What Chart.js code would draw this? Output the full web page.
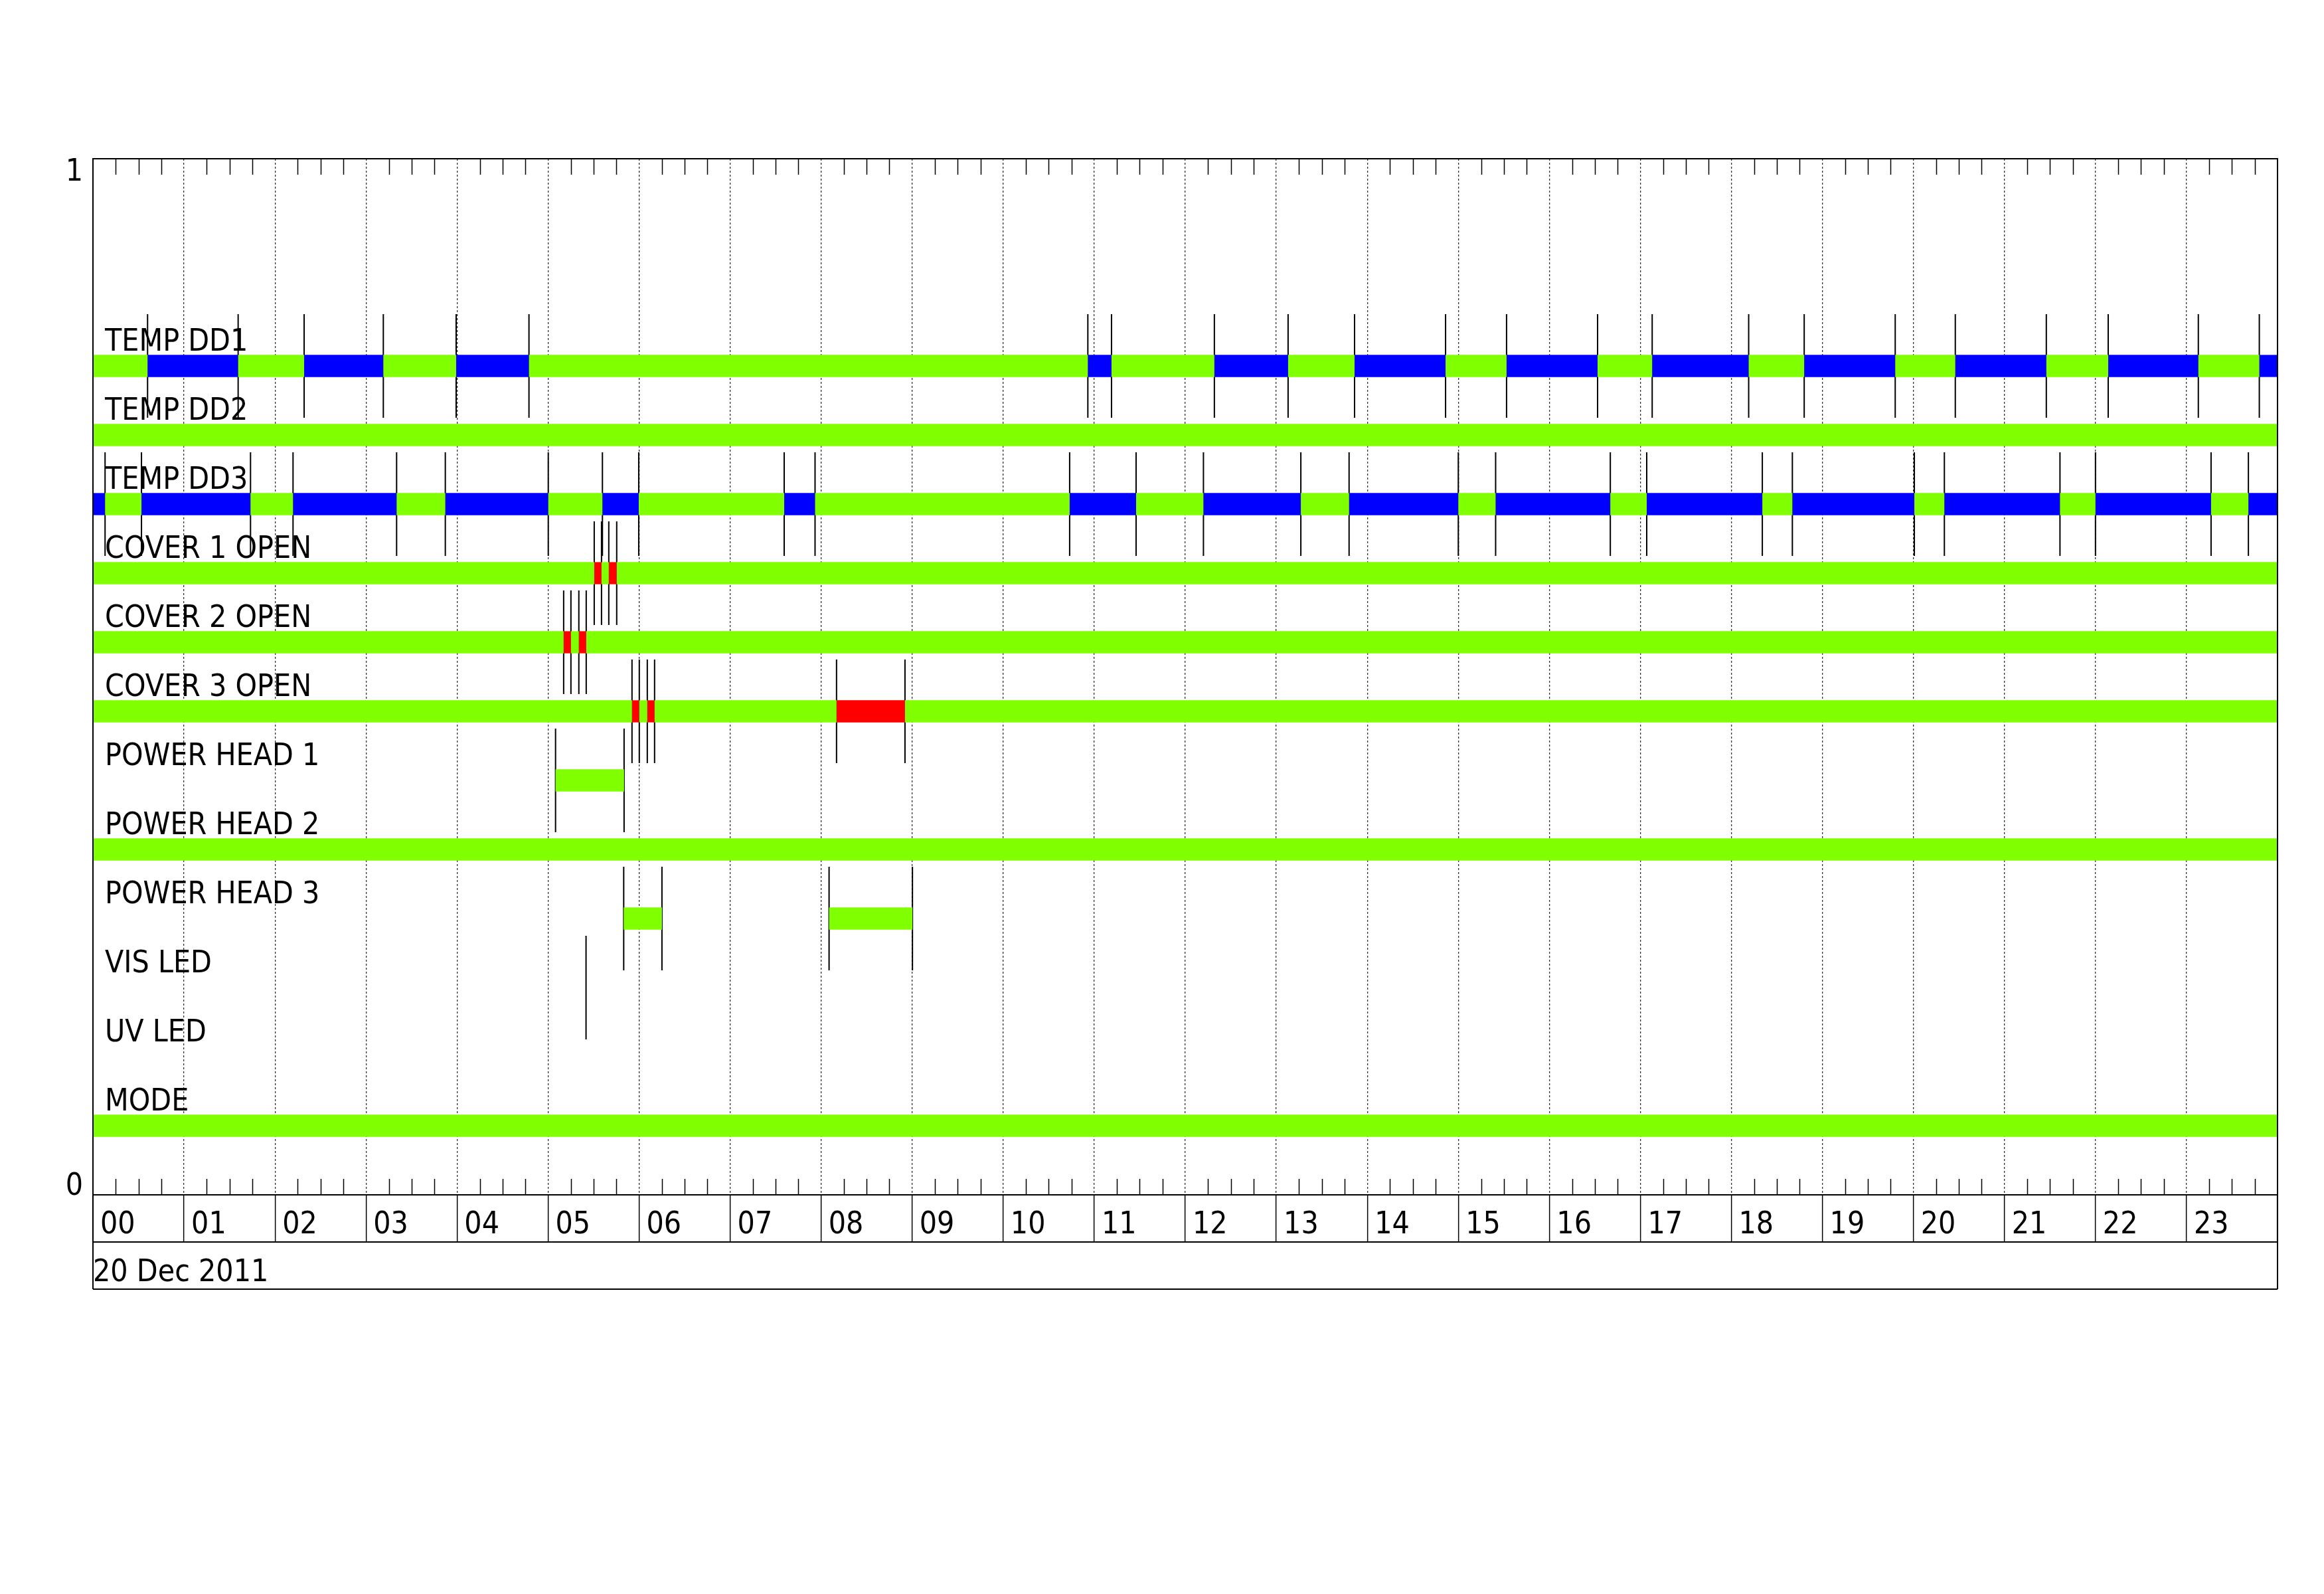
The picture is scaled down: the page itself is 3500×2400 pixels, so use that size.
<!DOCTYPE html>
<html>
<head>
<meta charset="utf-8">
<title>Status timeline - 20 Dec 2011</title>
<script src="https://cdn.jsdelivr.net/npm/chart.js@4.4.1/dist/chart.umd.min.js"></script>
<style>
  html, body { margin: 0; padding: 0; background: #fff; }
  #timeline { display: block; }
</style>
</head>
<body>
<canvas id="timeline" width="3500" height="2400"></canvas>
<script>
// Channel status timeline for one day, hours on x, one row per channel

const rowNames = ['TEMP DD1', 'TEMP DD2', 'TEMP DD3', 'COVER 1 OPEN', 'COVER 2 OPEN', 'COVER 3 OPEN',
  'POWER HEAD 1', 'POWER HEAD 2', 'POWER HEAD 3', 'VIS LED', 'UV LED', 'MODE'];
const hourLabels = ['00', '01', '02', '03', '04', '05', '06', '07', '08', '09', '10', '11',
  '12', '13', '14', '15', '16', '17', '18', '19', '20', '21', '22', '23'];
const dateLabel = '20 Dec 2011';
const yTickValues = [0, 1];
const yTickLabels = ['0', '1'];
const dayStart = 0;
const dayEnd = 24;

// change times (hours) and the state that begins at each change
// G = nominal, B = low, R = open / alarm, null = nothing drawn
const tempDd1Changes = [0, 0.60, 1.595, 2.32, 3.19, 3.99, 4.79, 10.93, 11.19, 12.32, 13.13, 13.86,
  14.86, 15.53, 16.53, 17.13, 18.19, 18.80, 19.80, 20.46, 21.46, 22.14, 23.13, 23.80];
const tempDd1States = ['G', 'B', 'G', 'B', 'G', 'B', 'G', 'B', 'G', 'B', 'G', 'B',
  'G', 'B', 'G', 'B', 'G', 'B', 'G', 'B', 'G', 'B', 'G', 'B'];

const tempDd2Changes = [0];
const tempDd2States = ['G'];

const tempDd3Changes = [0, 0.133, 0.533, 1.731, 2.198, 3.336, 3.871, 5.002, 5.597, 5.996, 7.594, 7.933,
  10.73, 11.46, 12.20, 13.27, 13.80, 15.00, 15.41, 16.67, 17.07, 18.34, 18.67, 20.01, 20.34,
  21.61, 22.00, 23.27, 23.68];
const tempDd3States = ['B', 'G', 'B', 'G', 'B', 'G', 'B', 'G', 'B', 'G', 'B', 'G',
  'B', 'G', 'B', 'G', 'B', 'G', 'B', 'G', 'B', 'G', 'B', 'G', 'B',
  'G', 'B', 'G', 'B'];

const cover1Changes = [0, 5.507, 5.587, 5.667, 5.754];
const cover1States = ['G', 'R', 'G', 'R', 'G'];

const cover2Changes = [0, 5.171, 5.251, 5.338, 5.419];
const cover2States = ['G', 'R', 'G', 'R', 'G'];

const cover3Changes = [0, 5.922, 6.002, 6.090, 6.170, 8.169, 8.921];
const cover3States = ['G', 'R', 'G', 'R', 'G', 'R', 'G'];

const powerHead1Changes = [0, 5.082, 5.835];
const powerHead1States = [null, 'G', null];

const powerHead2Changes = [0];
const powerHead2States = ['G'];

const powerHead3Changes = [0, 5.831, 6.251, 8.087, 9.003];
const powerHead3States = [null, 'G', null, 'G', null];

const visLedChanges = [0, 5.417];
const visLedStates = [null, null];

const uvLedChanges = [0];
const uvLedStates = [null];

const modeChanges = [0];
const modeStates = ['G'];

const rowSeries = [
  { changes: tempDd1Changes, states: tempDd1States },
  { changes: tempDd2Changes, states: tempDd2States },
  { changes: tempDd3Changes, states: tempDd3States },
  { changes: cover1Changes, states: cover1States },
  { changes: cover2Changes, states: cover2States },
  { changes: cover3Changes, states: cover3States },
  { changes: powerHead1Changes, states: powerHead1States },
  { changes: powerHead2Changes, states: powerHead2States },
  { changes: powerHead3Changes, states: powerHead3States },
  { changes: visLedChanges, states: visLedStates },
  { changes: uvLedChanges, states: uvLedStates },
  { changes: modeChanges, states: modeStates }
];

const stateColors = { G: '#80ff00', B: '#0000ff', R: '#ff0000' };
const MARK_HALF = 0.05;   // half height of a change marker, in y units

// rows sit on 1/15 steps of the 0..1 axis, top row highest
function rowValue(i) {
  return (rowNames.length - i) / (rowNames.length + 3);
}

function buildBars(state) {
  const out = [];
  rowSeries.forEach((row, i) => {
    row.changes.forEach((t, k) => {
      if (row.states[k] !== state) return;
      const end = k + 1 < row.changes.length ? row.changes[k + 1] : dayEnd;
      out.push({ x: [t, end], y: rowValue(i) });
    });
  });
  return out;
}

function buildMarks() {
  const pts = [];
  rowSeries.forEach((row, i) => {
    const y = rowValue(i);
    row.changes.forEach(t => {
      pts.push({ x: t, y: y - MARK_HALF }, { x: t, y: y + MARK_HALF }, { x: t, y: null });
    });
  });
  return pts;
}

// pick a narrow face if one is installed
function pickFont() {
  const c = document.createElement('canvas').getContext('2d');
  const probe = 'COVER 1 OPEN';
  c.font = '46px monospace';
  const base = c.measureText(probe).width;
  const faces = ['Liberation Sans Narrow', 'DejaVu Sans Condensed', 'Liberation Sans'];
  for (const f of faces) {
    c.font = '46px "' + f + '", monospace';
    const w = c.measureText(probe).width;
    if (Math.abs(w - base) > 0.5) {
      return { family: f, size: Math.min(46, Math.round(46 * 318 / w)) };
    }
  }
  return { family: 'sans-serif', size: 42 };
}

const pick = pickFont();
const labelFont = { family: pick.family, size: pick.size };

const hourTicks = [];
for (let h = dayStart; h <= dayEnd; h++) hourTicks.push(h);

// frame, quarter-hour ticks, label boxes and the 0/1 end labels
const framePlugin = {
  id: 'frame',
  afterDraw(chart) {
    const { ctx, chartArea: a, scales: { x, y } } = chart;
    ctx.save();
    ctx.strokeStyle = '#000';
    ctx.lineWidth = 2;
    ctx.strokeRect(a.left, a.top, a.right - a.left, a.bottom - a.top);

    ctx.lineWidth = 1.5;
    ctx.beginPath();
    for (let h = dayStart; h < dayEnd; h++) {
      for (let q = 1; q < 4; q++) {
        const px = Math.round(x.getPixelForValue(h + q / 4)) + 0.5;
        ctx.moveTo(px, a.top);
        ctx.lineTo(px, a.top + 24);
        ctx.moveTo(px, a.bottom);
        ctx.lineTo(px, a.bottom - 24);
      }
    }
    ctx.stroke();

    const rowH = x.options.grid.tickLength;
    ctx.lineWidth = 2;
    ctx.beginPath();
    ctx.moveTo(a.left, a.bottom + rowH);
    ctx.lineTo(a.right, a.bottom + rowH);
    ctx.moveTo(a.left, x.bottom - 1);
    ctx.lineTo(a.right, x.bottom - 1);
    ctx.moveTo(a.left, a.bottom);
    ctx.lineTo(a.left, x.bottom - 1);
    ctx.moveTo(a.right, a.bottom);
    ctx.lineTo(a.right, x.bottom - 1);
    ctx.stroke();

    ctx.fillStyle = '#000';
    ctx.font = labelFont.size + 'px "' + labelFont.family + '"';
    ctx.textAlign = 'center';
    ctx.textBaseline = 'alphabetic';
    const cap = labelFont.size * 0.72;
    yTickValues.forEach((v, i) => {
      const py = y.getPixelForValue(v);
      const base = v >= y.max ? py + cap : py;
      ctx.fillText(yTickLabels[i], a.left - 28, base);
    });
    ctx.restore();
  }
};

const datasets = [{
  type: 'line',
  label: 'changes',
  data: buildMarks(),
  borderColor: '#000',
  borderWidth: 2,
  pointRadius: 0,
  spanGaps: false,
  tension: 0,
  order: 2
}];
['G', 'B', 'R'].forEach(s => {
  datasets.push({
    type: 'bar',
    label: s,
    indexAxis: 'y',
    data: buildBars(s),
    backgroundColor: stateColors[s],
    borderWidth: 0,
    grouped: false,
    categoryPercentage: 1,
    barPercentage: 0.32,
    order: 1
  });
});

new Chart(document.getElementById('timeline'), {
  type: 'bar',
  data: { datasets },
  options: {
    responsive: false,
    animation: false,
    layout: {
      autoPadding: false,
      padding: { left: 140, right: 70, top: 239, bottom: 458 }
    },
    plugins: {
      legend: { display: false },
      tooltip: { enabled: false }
    },
    scales: {
      x: {
        type: 'linear',
        position: 'bottom',
        offset: false,
        min: dayStart,
        max: dayEnd,
        afterBuildTicks: s => { s.ticks = hourTicks.map(v => ({ value: v })); },
        afterFit: s => { s.height = 143; },
        ticks: {
          autoSkip: false,
          maxRotation: 0,
          align: 'start',
          labelOffset: 11,
          padding: -53,
          color: '#000',
          font: labelFont,
          callback: (v, i) => hourLabels[i] ?? ''
        },
        grid: {
          offset: false,
          color: '#333',
          lineWidth: 1.3,
          drawTicks: true,
          tickLength: 71,
          tickColor: '#000',
          tickWidth: 1.5,
          tickBorderDash: []
        },
        border: { display: true, color: '#000', width: 2, dash: [3, 3] },
        title: {
          display: true,
          text: dateLabel,
          align: 'start',
          color: '#000',
          font: labelFont,
          padding: { top: 0, bottom: -3 }
        }
      },
      y: {
        type: 'linear',
        position: 'left',
        offset: false,
        min: 0,
        max: 1,
        afterBuildTicks: s => { s.ticks = rowNames.map((_, i) => ({ value: rowValue(i) })); },
        afterFit: s => { s.width = 0; },
        ticks: {
          mirror: true,
          autoSkip: false,
          padding: 18,
          labelOffset: -35,
          color: '#000',
          font: labelFont,
          callback: (v, i) => rowNames[i]
        },
        grid: { display: false, drawTicks: false, offset: false },
        border: { display: true, color: '#000', width: 2 }
      }
    }
  },
  plugins: [framePlugin]
});
</script>
</body>
</html>
